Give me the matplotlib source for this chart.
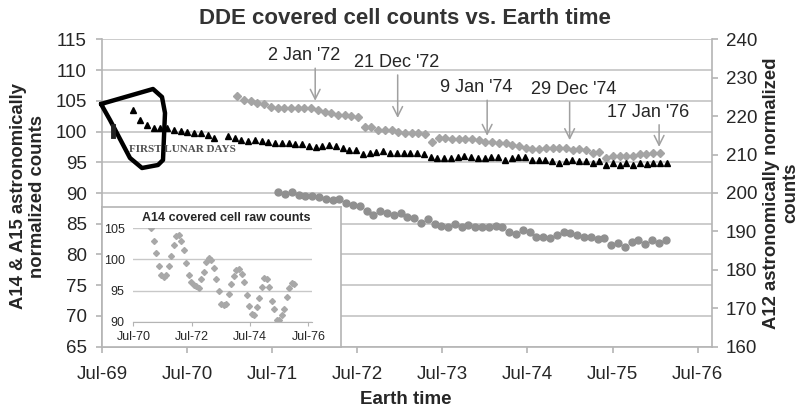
import matplotlib.pyplot as plt
import matplotlib.dates as mdates
from matplotlib.lines import Line2D
import numpy as np
import pandas as pd

plt.rcParams['font.family'] = ['Liberation Sans', 'DejaVu Sans']

nan = np.nan

# A12 normalized counts (right axis), one value per lunar day
a12_first, a12_last = '1969-11-13', '1976-02-19'
a12 = [221.6, 219.0, 217.8, 216.8, 216.8, 216.8, 216.5, 216.2, 216.0, 215.5, 215.5, 215.2, 214.2, nan,
       214.9, 214.2, 213.9, 213.6,
       213.8, 213.5, 213.3, 213.1, 212.9, 212.9, 212.8, 212.8, 212.2, 212.1, 212.2, 212.5, 212.2, 211.6,
       211.2, 211.2, 210.2, 210.5, 210.8, 210.9, 210.5, 210.5, 210.5,
       210.5, 210.3, 210.2, 209.3, 209.0, 209.0, 209.0, 209.3, 209.6, 209.3, 209.0, 209.0, 209.3, 209.3,
       208.6, 209.0, 209.3, 209.3, 208.6, 208.6, 208.6, 208.2, 207.9,
       208.4, 208.6, 208.4, 208.2, 207.9, 208.4, 207.3, 207.7, 207.3, 207.7, 207.3, 207.9, 207.6, 207.7,
       207.7, 207.7]

# A14 normalized counts (left axis)
a14_first, a14_last = '1971-02-02', '1976-01-20'
a14 = [105.7, 105.1, 105.0, 104.6, 104.5, 104.0, 103.9, 103.9, 103.9, 103.8, 103.8, 103.8, 103.5, 103.2,
       103.0, 102.7, 102.7, 102.5, 102.3, 100.7, 100.7, 100.3, 100.3, 100.3, 100.0, 99.8,
       99.8, 99.7, 99.6, 98.35, 98.9, 98.9, 98.74, 98.74, 98.74, 98.74, 98.63, 98.35, 98.35, 98.19, 98.19,
       97.81, 97.65, 97.28, 97.11, 97.11, 97.28, 97.28,
       97.28, 97.38, 97.0, 97.11, 97.0, 96.56, 96.72, 95.65, 96.02, 96.02, 96.02, 96.02, 96.35, 96.35,
       96.46, 96.46]

# A15 normalized counts (left axis)
a15_first, a15_last = '1971-07-27', '1976-02-14'
a15 = [90.2, 89.8, 90.1, 89.7, 89.5, 89.5, 89.4, 89.0, 88.8, 89.1, 88.4, 88.1, 87.9, 87.0, 86.4, 87.0,
       86.7, 86.4, 86.8, 86.1, 85.9, 85.2, 85.7, 85.0, 84.6, 84.5, 85.0, 84.5, 84.8, 84.5, 84.5,
       84.5, 84.6, 84.4, 83.7, 83.3, 84.0, 83.7, 82.8, 82.8, 82.6, 83.2, 83.6, 83.5, 83.2, 82.9, 82.8,
       82.5, 82.6, 81.6, 81.8, 81.2, 82.1, 82.4, 81.7, 82.4, 81.8, 82.3]

# A14 raw counts (inset)
raw_first, raw_last = '1971-02-08', '1976-01-05'
a14_raw = [105.0, 102.9, 101.0, 98.9, 97.5, 97.1, 97.5, 98.9, 100.6, 102.3, 103.8, 103.9, 102.9, 101.5,
           99.5, 97.5, 96.4, 95.9, 95.7, 95.4, 96.8, 98.0, 99.6, 100.2, 99.9, 98.6, 96.8, 95.0, 92.8,
           92.7, 92.9, 94.4, 96.1, 97.3, 98.3, 98.4, 97.7, 96.3, 94.3, 92.5, 91.3, 91.1, 92.3, 93.8,
           95.5, 97.0, 96.8, 95.5, 93.4, 92.1, 90.3, 90.2, 91.1, 92.1, 94.0, 95.4, 96.2, 96.1]

notes = ["2 Jan '72", "21 Dec '72", "9 Jan '74", "29 Dec '74", "17 Jan '76"]
note_dates = ['1972-01-02', '1972-12-21', '1974-01-09', '1974-12-29', '1976-01-17']
note_top = [110.3, 109.2, 105.1, 104.8, 101.1]
note_tip = [105.0, 102.2, 99.3, 98.6, 97.5]
note_dx = [-8, -1, -8, 3, -8]

W, H = 799, 413
fig = plt.figure(figsize=(W / 100, H / 100), dpi=100)


def px(x0, y0, x1, y1):
    return [x0 / W, 1 - y1 / H, (x1 - x0) / W, (y1 - y0) / H]


grey = '#b4b4b4'
txt = '#262626'

ax = fig.add_axes(px(102, 39.3, 712, 346.7))
ax2 = ax.twinx()

d12 = pd.date_range(a12_first, a12_last, periods=len(a12))
d14 = pd.date_range(a14_first, a14_last, periods=len(a14))
d15 = pd.date_range(a15_first, a15_last, periods=len(a15))

ax.plot(d14, a14, ls='none', marker='D', ms=4.0, color='#a4a4a4', mec='#a4a4a4')
ax.plot(d15, a15, ls='none', marker='o', ms=5.0, color='#909090', mec='#909090')
ax2.plot(d12, a12, ls='none', marker='^', ms=4.8, color='black')

ax.set_ylim(65, 115)
ax.set_yticks(range(65, 116, 5))
ax2.set_ylim(160, 240)
ax2.set_yticks(range(160, 241, 10))
ax.set_xlim(pd.Timestamp('1969-07-01'), pd.Timestamp('1976-08-31'))
ax.xaxis.set_major_locator(mdates.MonthLocator(bymonth=7))
ax.xaxis.set_major_formatter(mdates.DateFormatter('%b-%y'))

ax.yaxis.grid(True, color='#c8c8c8', lw=1.3)
ax.set_axisbelow(True)
for a in (ax, ax2):
    a.spines['top'].set_visible(False)
    for s in a.spines.values():
        s.set_color(grey)
        s.set_linewidth(1.2)
ax.spines['right'].set_visible(False)
ax2.spines['left'].set_visible(False)
ax2.spines['bottom'].set_visible(False)
ax.tick_params(axis='both', direction='out', length=4, width=1.2, color=grey,
               labelsize=13.5, labelcolor=txt)
ax.tick_params(axis='x', pad=10)
ax.tick_params(axis='y', pad=7)
ax2.tick_params(axis='y', direction='out', length=4, width=1.2, color=grey,
                labelsize=13.5, labelcolor=txt, pad=6)

for label, d, top, tip, dx in zip(notes, note_dates, note_top, note_tip, note_dx):
    dt = pd.Timestamp(d)
    ax.annotate('', xy=(dt, tip), xytext=(dt, top),
                arrowprops=dict(arrowstyle='->,head_length=0.7,head_width=0.35',
                                color='#a0a0a0', lw=1.1, shrinkA=0, shrinkB=0))
    ax.annotate(label, xy=(dt, top), xytext=(dx, 9), textcoords='offset points',
                ha='center', va='center', fontsize=13, color=txt)

fig.text(405 / W, 1 - 18 / H, 'DDE covered cell counts vs. Earth time', ha='center', va='center',
         fontsize=16, fontweight='bold', color='#333333')
fig.text(406 / W, 1 - 400 / H, 'Earth time', ha='center', va='center',
         fontsize=13.5, fontweight='bold', color=txt)
fig.text(28 / W, 1 - 196 / H, 'A14 & A15 astronomically\nnormalized counts', rotation=90,
         ha='center', va='center', fontsize=13.3, fontweight='bold', color=txt, linespacing=1.1)
fig.text(781 / W, 1 - 193 / H, 'A12 astronomically normalized\ncounts', rotation=90,
         ha='center', va='center', fontsize=13.3, fontweight='bold', color=txt, linespacing=1.15)

# first lunar days marking
fig.text(182 / W, 1 - 149 / H, 'FIRST LUNAR DAYS', ha='center', va='center',
         fontsize=8, fontweight='bold', color='#505050', family='Liberation Serif')
poly_x = [101, 153, 162, 165, 163, 158, 142, 130, 110, 101]
poly_y = [104, 89, 97, 113, 160, 165, 168, 158, 120, 104]
fig.add_artist(Line2D([x / W for x in poly_x], [1 - y / H for y in poly_y], color='black', lw=3.2,
                      solid_joinstyle='round', solid_capstyle='round'))
fig.add_artist(Line2D([113 / W, 113 / W], [1 - 126 / H, 1 - 136 / H], color='#222222', lw=3.5))

# inset
frame = fig.add_axes(px(102, 207, 341, 347))
frame.set_xticks([])
frame.set_yticks([])
frame.set_facecolor('white')
for s in frame.spines.values():
    s.set_color(grey)
    s.set_linewidth(1.2)

ins = fig.add_axes(px(133, 228.3, 312, 321.7))
draw = pd.date_range(raw_first, raw_last, periods=len(a14_raw))
ins.plot(draw, a14_raw, ls='none', marker='D', ms=3.0, color='#a8a8a8', mec='#a8a8a8')
ins.set_ylim(90, 105)
ins.set_yticks([90, 95, 100, 105])
ins.set_xlim(pd.Timestamp('1970-06-25'), pd.Timestamp('1976-08-15'))
ins.set_xticks([pd.Timestamp(f'{y}-07-01') for y in (1970, 1972, 1974, 1976)])
ins.xaxis.set_major_formatter(mdates.DateFormatter('%b-%y'))
ins.yaxis.grid(True, color='#c8c8c8', lw=1.0)
ins.set_axisbelow(True)
for s in ('top', 'right', 'left'):
    ins.spines[s].set_visible(False)
ins.spines['bottom'].set_color(grey)
ins.tick_params(axis='x', direction='out', length=3, color=grey, labelsize=9, labelcolor=txt, pad=4)
ins.tick_params(axis='y', length=0, labelsize=9, labelcolor=txt, pad=6)
fig.text(226 / W, 1 - 218 / H, 'A14 covered cell raw counts', ha='center', va='center',
         fontsize=9, fontweight='bold', color=txt)

fig.savefig('out.png', dpi=100)
